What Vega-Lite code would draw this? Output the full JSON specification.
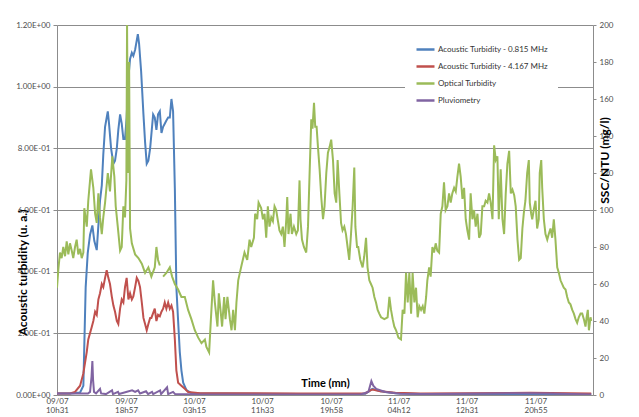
{
  "$schema": "https://vega.github.io/schema/vega-lite/v6.json",
  "width": 536,
  "height": 370,
  "autosize": {"type": "none"},
  "padding": {"left": 57, "top": 25, "right": 46, "bottom": 22},
  "background": "white",
  "config": {"view": {"stroke": null}, "font": "Lato"},
  "datasets": {
    "acoustic": [
      {"s":"Acoustic Turbidity - 0.815 MHz","t":0,"v":0.005},{"s":"Acoustic Turbidity - 0.815 MHz","t":95,"v":0.005},{"s":"Acoustic Turbidity - 0.815 MHz","t":169,"v":0.008},{"s":"Acoustic Turbidity - 0.815 MHz","t":193,"v":0.03},{"s":"Acoustic Turbidity - 0.815 MHz","t":210,"v":0.35},{"s":"Acoustic Turbidity - 0.815 MHz","t":225,"v":0.46},{"s":"Acoustic Turbidity - 0.815 MHz","t":242,"v":0.52},{"s":"Acoustic Turbidity - 0.815 MHz","t":259,"v":0.55},{"s":"Acoustic Turbidity - 0.815 MHz","t":273,"v":0.5},{"s":"Acoustic Turbidity - 0.815 MHz","t":291,"v":0.47},{"s":"Acoustic Turbidity - 0.815 MHz","t":303,"v":0.55},{"s":"Acoustic Turbidity - 0.815 MHz","t":315,"v":0.63},{"s":"Acoustic Turbidity - 0.815 MHz","t":328,"v":0.68},{"s":"Acoustic Turbidity - 0.815 MHz","t":339,"v":0.78},{"s":"Acoustic Turbidity - 0.815 MHz","t":352,"v":0.87},{"s":"Acoustic Turbidity - 0.815 MHz","t":364,"v":0.9},{"s":"Acoustic Turbidity - 0.815 MHz","t":372,"v":0.92},{"s":"Acoustic Turbidity - 0.815 MHz","t":381,"v":0.88},{"s":"Acoustic Turbidity - 0.815 MHz","t":396,"v":0.8},{"s":"Acoustic Turbidity - 0.815 MHz","t":413,"v":0.75},{"s":"Acoustic Turbidity - 0.815 MHz","t":425,"v":0.76},{"s":"Acoustic Turbidity - 0.815 MHz","t":438,"v":0.8},{"s":"Acoustic Turbidity - 0.815 MHz","t":449,"v":0.86},{"s":"Acoustic Turbidity - 0.815 MHz","t":462,"v":0.91},{"s":"Acoustic Turbidity - 0.815 MHz","t":474,"v":0.88},{"s":"Acoustic Turbidity - 0.815 MHz","t":486,"v":0.83},{"s":"Acoustic Turbidity - 0.815 MHz","t":498,"v":0.83},{"s":"Acoustic Turbidity - 0.815 MHz","t":510,"v":0.9},{"s":"Acoustic Turbidity - 0.815 MHz","t":523,"v":1.03},{"s":"Acoustic Turbidity - 0.815 MHz","t":535,"v":1.09},{"s":"Acoustic Turbidity - 0.815 MHz","t":548,"v":1.11},{"s":"Acoustic Turbidity - 0.815 MHz","t":559,"v":1.1},{"s":"Acoustic Turbidity - 0.815 MHz","t":572,"v":1.12},{"s":"Acoustic Turbidity - 0.815 MHz","t":584,"v":1.15},{"s":"Acoustic Turbidity - 0.815 MHz","t":592,"v":1.17},{"s":"Acoustic Turbidity - 0.815 MHz","t":601,"v":1.14},{"s":"Acoustic Turbidity - 0.815 MHz","t":616,"v":1.05},{"s":"Acoustic Turbidity - 0.815 MHz","t":633,"v":0.91},{"s":"Acoustic Turbidity - 0.815 MHz","t":645,"v":0.82},{"s":"Acoustic Turbidity - 0.815 MHz","t":657,"v":0.75},{"s":"Acoustic Turbidity - 0.815 MHz","t":669,"v":0.76},{"s":"Acoustic Turbidity - 0.815 MHz","t":682,"v":0.8},{"s":"Acoustic Turbidity - 0.815 MHz","t":694,"v":0.86},{"s":"Acoustic Turbidity - 0.815 MHz","t":704,"v":0.91},{"s":"Acoustic Turbidity - 0.815 MHz","t":716,"v":0.9},{"s":"Acoustic Turbidity - 0.815 MHz","t":728,"v":0.86},{"s":"Acoustic Turbidity - 0.815 MHz","t":740,"v":0.91},{"s":"Acoustic Turbidity - 0.815 MHz","t":753,"v":0.92},{"s":"Acoustic Turbidity - 0.815 MHz","t":765,"v":0.85},{"s":"Acoustic Turbidity - 0.815 MHz","t":777,"v":0.87},{"s":"Acoustic Turbidity - 0.815 MHz","t":789,"v":0.88},{"s":"Acoustic Turbidity - 0.815 MHz","t":801,"v":0.89},{"s":"Acoustic Turbidity - 0.815 MHz","t":814,"v":0.9},{"s":"Acoustic Turbidity - 0.815 MHz","t":826,"v":0.9},{"s":"Acoustic Turbidity - 0.815 MHz","t":838,"v":0.96},{"s":"Acoustic Turbidity - 0.815 MHz","t":850,"v":0.92},{"s":"Acoustic Turbidity - 0.815 MHz","t":863,"v":0.67},{"s":"Acoustic Turbidity - 0.815 MHz","t":874,"v":0.35},{"s":"Acoustic Turbidity - 0.815 MHz","t":887,"v":0.24},{"s":"Acoustic Turbidity - 0.815 MHz","t":899,"v":0.14},{"s":"Acoustic Turbidity - 0.815 MHz","t":911,"v":0.08},{"s":"Acoustic Turbidity - 0.815 MHz","t":924,"v":0.04},{"s":"Acoustic Turbidity - 0.815 MHz","t":948,"v":0.016},{"s":"Acoustic Turbidity - 0.815 MHz","t":984,"v":0.006},{"s":"Acoustic Turbidity - 0.815 MHz","t":1781,"v":0.003},{"s":"Acoustic Turbidity - 0.815 MHz","t":2258,"v":0.004},{"s":"Acoustic Turbidity - 0.815 MHz","t":2309,"v":0.02},{"s":"Acoustic Turbidity - 0.815 MHz","t":2368,"v":0.012},{"s":"Acoustic Turbidity - 0.815 MHz","t":2478,"v":0.006},{"s":"Acoustic Turbidity - 0.815 MHz","t":2661,"v":0.003},{"s":"Acoustic Turbidity - 0.815 MHz","t":3912,"v":0.003},
      {"s":"Acoustic Turbidity - 4.167 MHz","t":0,"v":0.005},{"s":"Acoustic Turbidity - 4.167 MHz","t":95,"v":0.005},{"s":"Acoustic Turbidity - 4.167 MHz","t":132,"v":0.01},{"s":"Acoustic Turbidity - 4.167 MHz","t":169,"v":0.03},{"s":"Acoustic Turbidity - 4.167 MHz","t":193,"v":0.07},{"s":"Acoustic Turbidity - 4.167 MHz","t":218,"v":0.14},{"s":"Acoustic Turbidity - 4.167 MHz","t":229,"v":0.18},{"s":"Acoustic Turbidity - 4.167 MHz","t":254,"v":0.22},{"s":"Acoustic Turbidity - 4.167 MHz","t":266,"v":0.24},{"s":"Acoustic Turbidity - 4.167 MHz","t":279,"v":0.27},{"s":"Acoustic Turbidity - 4.167 MHz","t":291,"v":0.26},{"s":"Acoustic Turbidity - 4.167 MHz","t":303,"v":0.31},{"s":"Acoustic Turbidity - 4.167 MHz","t":315,"v":0.33},{"s":"Acoustic Turbidity - 4.167 MHz","t":328,"v":0.36},{"s":"Acoustic Turbidity - 4.167 MHz","t":339,"v":0.35},{"s":"Acoustic Turbidity - 4.167 MHz","t":352,"v":0.38},{"s":"Acoustic Turbidity - 4.167 MHz","t":364,"v":0.405},{"s":"Acoustic Turbidity - 4.167 MHz","t":376,"v":0.38},{"s":"Acoustic Turbidity - 4.167 MHz","t":388,"v":0.36},{"s":"Acoustic Turbidity - 4.167 MHz","t":401,"v":0.32},{"s":"Acoustic Turbidity - 4.167 MHz","t":413,"v":0.29},{"s":"Acoustic Turbidity - 4.167 MHz","t":425,"v":0.27},{"s":"Acoustic Turbidity - 4.167 MHz","t":438,"v":0.24},{"s":"Acoustic Turbidity - 4.167 MHz","t":449,"v":0.23},{"s":"Acoustic Turbidity - 4.167 MHz","t":462,"v":0.28},{"s":"Acoustic Turbidity - 4.167 MHz","t":474,"v":0.31},{"s":"Acoustic Turbidity - 4.167 MHz","t":486,"v":0.3},{"s":"Acoustic Turbidity - 4.167 MHz","t":498,"v":0.35},{"s":"Acoustic Turbidity - 4.167 MHz","t":510,"v":0.38},{"s":"Acoustic Turbidity - 4.167 MHz","t":523,"v":0.31},{"s":"Acoustic Turbidity - 4.167 MHz","t":535,"v":0.33},{"s":"Acoustic Turbidity - 4.167 MHz","t":548,"v":0.31},{"s":"Acoustic Turbidity - 4.167 MHz","t":559,"v":0.32},{"s":"Acoustic Turbidity - 4.167 MHz","t":572,"v":0.35},{"s":"Acoustic Turbidity - 4.167 MHz","t":584,"v":0.38},{"s":"Acoustic Turbidity - 4.167 MHz","t":596,"v":0.37},{"s":"Acoustic Turbidity - 4.167 MHz","t":608,"v":0.35},{"s":"Acoustic Turbidity - 4.167 MHz","t":621,"v":0.3},{"s":"Acoustic Turbidity - 4.167 MHz","t":633,"v":0.25},{"s":"Acoustic Turbidity - 4.167 MHz","t":645,"v":0.23},{"s":"Acoustic Turbidity - 4.167 MHz","t":657,"v":0.21},{"s":"Acoustic Turbidity - 4.167 MHz","t":669,"v":0.23},{"s":"Acoustic Turbidity - 4.167 MHz","t":682,"v":0.25},{"s":"Acoustic Turbidity - 4.167 MHz","t":691,"v":0.25},{"s":"Acoustic Turbidity - 4.167 MHz","t":716,"v":0.28},{"s":"Acoustic Turbidity - 4.167 MHz","t":728,"v":0.24},{"s":"Acoustic Turbidity - 4.167 MHz","t":740,"v":0.26},{"s":"Acoustic Turbidity - 4.167 MHz","t":753,"v":0.255},{"s":"Acoustic Turbidity - 4.167 MHz","t":765,"v":0.27},{"s":"Acoustic Turbidity - 4.167 MHz","t":777,"v":0.28},{"s":"Acoustic Turbidity - 4.167 MHz","t":789,"v":0.3},{"s":"Acoustic Turbidity - 4.167 MHz","t":801,"v":0.28},{"s":"Acoustic Turbidity - 4.167 MHz","t":814,"v":0.3},{"s":"Acoustic Turbidity - 4.167 MHz","t":826,"v":0.28},{"s":"Acoustic Turbidity - 4.167 MHz","t":838,"v":0.29},{"s":"Acoustic Turbidity - 4.167 MHz","t":850,"v":0.27},{"s":"Acoustic Turbidity - 4.167 MHz","t":863,"v":0.18},{"s":"Acoustic Turbidity - 4.167 MHz","t":874,"v":0.08},{"s":"Acoustic Turbidity - 4.167 MHz","t":887,"v":0.04},{"s":"Acoustic Turbidity - 4.167 MHz","t":911,"v":0.03},{"s":"Acoustic Turbidity - 4.167 MHz","t":936,"v":0.02},{"s":"Acoustic Turbidity - 4.167 MHz","t":960,"v":0.01},{"s":"Acoustic Turbidity - 4.167 MHz","t":1048,"v":0.006},{"s":"Acoustic Turbidity - 4.167 MHz","t":1781,"v":0.005},{"s":"Acoustic Turbidity - 4.167 MHz","t":2258,"v":0.006},{"s":"Acoustic Turbidity - 4.167 MHz","t":2309,"v":0.018},{"s":"Acoustic Turbidity - 4.167 MHz","t":2368,"v":0.012},{"s":"Acoustic Turbidity - 4.167 MHz","t":2478,"v":0.007},{"s":"Acoustic Turbidity - 4.167 MHz","t":2661,"v":0.005},{"s":"Acoustic Turbidity - 4.167 MHz","t":3467,"v":0.007},{"s":"Acoustic Turbidity - 4.167 MHz","t":3912,"v":0.005},
      {"s":"Pluviometry","t":0,"v":0.005},{"s":"Pluviometry","t":227,"v":0.005},{"s":"Pluviometry","t":242,"v":0.01},{"s":"Pluviometry","t":253,"v":0.06},{"s":"Pluviometry","t":259,"v":0.11},{"s":"Pluviometry","t":264,"v":0.05},{"s":"Pluviometry","t":271,"v":0.01},{"s":"Pluviometry","t":286,"v":0.005},{"s":"Pluviometry","t":315,"v":0.02},{"s":"Pluviometry","t":323,"v":0.005},{"s":"Pluviometry","t":359,"v":0.003},{"s":"Pluviometry","t":403,"v":0.015},{"s":"Pluviometry","t":410,"v":0.003},{"s":"Pluviometry","t":447,"v":0.01},{"s":"Pluviometry","t":454,"v":0.003},{"s":"Pluviometry","t":550,"v":0.015},{"s":"Pluviometry","t":572,"v":0.01},{"s":"Pluviometry","t":594,"v":0.015},{"s":"Pluviometry","t":608,"v":0.005},{"s":"Pluviometry","t":652,"v":0.012},{"s":"Pluviometry","t":667,"v":0.003},{"s":"Pluviometry","t":696,"v":0.01},{"s":"Pluviometry","t":704,"v":0.003},{"s":"Pluviometry","t":755,"v":0.015},{"s":"Pluviometry","t":762,"v":0.003},{"s":"Pluviometry","t":806,"v":0.025},{"s":"Pluviometry","t":814,"v":0.003},{"s":"Pluviometry","t":850,"v":0.01},{"s":"Pluviometry","t":865,"v":0.003},{"s":"Pluviometry","t":1048,"v":0.002},{"s":"Pluviometry","t":2221,"v":0.002},{"s":"Pluviometry","t":2280,"v":0.01},{"s":"Pluviometry","t":2302,"v":0.045},{"s":"Pluviometry","t":2316,"v":0.03},{"s":"Pluviometry","t":2338,"v":0.02},{"s":"Pluviometry","t":2404,"v":0.01},{"s":"Pluviometry","t":2514,"v":0.004},{"s":"Pluviometry","t":2734,"v":0.003},{"s":"Pluviometry","t":3467,"v":0.006},{"s":"Pluviometry","t":3614,"v":0.005},{"s":"Pluviometry","t":3912,"v":0.002}
    ],
    "optical": [
      {"t":0,"v":58},{"t":10,"v":68},{"t":22,"v":77},{"t":34,"v":74},{"t":46,"v":80},{"t":59,"v":75},{"t":71,"v":83},{"t":83,"v":76},{"t":95,"v":82},{"t":108,"v":78},{"t":119,"v":74},{"t":132,"v":80},{"t":144,"v":84},{"t":156,"v":76},{"t":169,"v":79},{"t":181,"v":74},{"t":193,"v":77},{"t":200,"v":101},{"t":218,"v":91},{"t":229,"v":105},{"t":249,"v":122},{"t":266,"v":112},{"t":279,"v":98},{"t":291,"v":93},{"t":303,"v":109},{"t":315,"v":96},{"t":328,"v":87},{"t":339,"v":96},{"t":352,"v":104},{"t":372,"v":120},{"t":388,"v":110},{"t":405,"v":129},{"t":420,"v":118},{"t":430,"v":102},{"t":445,"v":91},{"t":462,"v":78},{"t":474,"v":80},{"t":486,"v":102},{"t":498,"v":96},{"t":508,"v":116},{"t":513,"v":200},{"t":520,"v":120},{"t":528,"v":180},{"t":535,"v":90},{"t":548,"v":82},{"t":572,"v":76},{"t":596,"v":74},{"t":621,"v":71},{"t":645,"v":66},{"t":669,"v":69},{"t":691,"v":64},{"t":716,"v":69},{"t":728,"v":80},{"t":740,"v":73},{"t":753,"v":70},{"t":761,"v":null},{"t":777,"v":64},{"t":801,"v":66},{"t":826,"v":69},{"t":843,"v":64},{"t":863,"v":60},{"t":887,"v":57},{"t":911,"v":53},{"t":936,"v":53},{"t":960,"v":46},{"t":984,"v":41},{"t":1009,"v":35},{"t":1034,"v":31},{"t":1058,"v":28},{"t":1083,"v":30},{"t":1094,"v":26},{"t":1114,"v":23},{"t":1127,"v":41},{"t":1143,"v":62},{"t":1156,"v":50},{"t":1175,"v":37},{"t":1185,"v":55},{"t":1200,"v":44},{"t":1209,"v":37},{"t":1224,"v":53},{"t":1234,"v":41},{"t":1248,"v":53},{"t":1266,"v":41},{"t":1278,"v":35},{"t":1290,"v":46},{"t":1303,"v":35},{"t":1314,"v":50},{"t":1327,"v":62},{"t":1339,"v":66},{"t":1351,"v":70},{"t":1373,"v":77},{"t":1393,"v":73},{"t":1410,"v":84},{"t":1422,"v":80},{"t":1442,"v":85},{"t":1451,"v":98},{"t":1466,"v":95},{"t":1476,"v":104},{"t":1495,"v":101},{"t":1508,"v":95},{"t":1520,"v":98},{"t":1532,"v":85},{"t":1544,"v":102},{"t":1556,"v":91},{"t":1569,"v":96},{"t":1581,"v":94},{"t":1593,"v":102},{"t":1605,"v":100},{"t":1618,"v":94},{"t":1629,"v":89},{"t":1642,"v":87},{"t":1654,"v":91},{"t":1666,"v":80},{"t":1679,"v":95},{"t":1686,"v":107},{"t":1695,"v":87},{"t":1710,"v":98},{"t":1720,"v":87},{"t":1735,"v":91},{"t":1752,"v":87},{"t":1764,"v":89},{"t":1776,"v":116},{"t":1783,"v":95},{"t":1794,"v":84},{"t":1808,"v":80},{"t":1825,"v":77},{"t":1838,"v":91},{"t":1849,"v":118},{"t":1862,"v":149},{"t":1871,"v":144},{"t":1882,"v":158},{"t":1891,"v":145},{"t":1901,"v":145},{"t":1911,"v":134},{"t":1923,"v":122},{"t":1935,"v":107},{"t":1948,"v":95},{"t":1959,"v":102},{"t":1972,"v":120},{"t":1984,"v":131},{"t":1996,"v":134},{"t":2008,"v":138},{"t":2021,"v":127},{"t":2033,"v":109},{"t":2045,"v":104},{"t":2055,"v":127},{"t":2067,"v":110},{"t":2080,"v":93},{"t":2091,"v":89},{"t":2104,"v":91},{"t":2116,"v":87},{"t":2128,"v":80},{"t":2140,"v":73},{"t":2153,"v":87},{"t":2165,"v":102},{"t":2177,"v":123},{"t":2185,"v":91},{"t":2197,"v":80},{"t":2206,"v":80},{"t":2221,"v":73},{"t":2238,"v":69},{"t":2250,"v":75},{"t":2263,"v":85},{"t":2274,"v":69},{"t":2287,"v":62},{"t":2299,"v":60},{"t":2311,"v":58},{"t":2324,"v":53},{"t":2336,"v":50},{"t":2348,"v":46},{"t":2360,"v":44},{"t":2373,"v":42},{"t":2397,"v":41},{"t":2421,"v":42},{"t":2434,"v":53},{"t":2446,"v":46},{"t":2458,"v":41},{"t":2470,"v":37},{"t":2483,"v":35},{"t":2500,"v":31},{"t":2519,"v":30},{"t":2531,"v":46},{"t":2544,"v":44},{"t":2556,"v":66},{"t":2568,"v":50},{"t":2580,"v":66},{"t":2593,"v":44},{"t":2604,"v":66},{"t":2617,"v":50},{"t":2629,"v":58},{"t":2641,"v":42},{"t":2653,"v":48},{"t":2666,"v":46},{"t":2678,"v":48},{"t":2690,"v":44},{"t":2703,"v":53},{"t":2712,"v":62},{"t":2725,"v":69},{"t":2736,"v":64},{"t":2749,"v":80},{"t":2761,"v":77},{"t":2773,"v":82},{"t":2785,"v":78},{"t":2798,"v":77},{"t":2810,"v":98},{"t":2822,"v":102},{"t":2834,"v":115},{"t":2846,"v":100},{"t":2859,"v":102},{"t":2871,"v":109},{"t":2883,"v":104},{"t":2895,"v":109},{"t":2908,"v":112},{"t":2920,"v":110},{"t":2932,"v":118},{"t":2944,"v":125},{"t":2956,"v":118},{"t":2969,"v":106},{"t":2981,"v":112},{"t":2993,"v":95},{"t":3005,"v":89},{"t":3018,"v":84},{"t":3029,"v":109},{"t":3042,"v":95},{"t":3054,"v":100},{"t":3066,"v":91},{"t":3079,"v":98},{"t":3091,"v":85},{"t":3103,"v":87},{"t":3115,"v":102},{"t":3128,"v":102},{"t":3139,"v":105},{"t":3152,"v":104},{"t":3164,"v":109},{"t":3176,"v":104},{"t":3189,"v":95},{"t":3201,"v":135},{"t":3213,"v":127},{"t":3225,"v":129},{"t":3235,"v":95},{"t":3249,"v":122},{"t":3262,"v":95},{"t":3274,"v":87},{"t":3286,"v":109},{"t":3298,"v":125},{"t":3311,"v":132},{"t":3323,"v":109},{"t":3335,"v":111},{"t":3348,"v":108},{"t":3359,"v":102},{"t":3372,"v":84},{"t":3384,"v":73},{"t":3396,"v":74},{"t":3408,"v":90},{"t":3418,"v":98},{"t":3430,"v":105},{"t":3443,"v":120},{"t":3455,"v":127},{"t":3462,"v":104},{"t":3472,"v":98},{"t":3480,"v":95},{"t":3491,"v":100},{"t":3504,"v":105},{"t":3516,"v":90},{"t":3528,"v":95},{"t":3535,"v":120},{"t":3546,"v":127},{"t":3553,"v":112},{"t":3565,"v":95},{"t":3577,"v":87},{"t":3590,"v":84},{"t":3601,"v":87},{"t":3614,"v":90},{"t":3626,"v":85},{"t":3638,"v":95},{"t":3650,"v":84},{"t":3663,"v":69},{"t":3675,"v":66},{"t":3687,"v":62},{"t":3711,"v":58},{"t":3724,"v":57},{"t":3736,"v":53},{"t":3748,"v":50},{"t":3760,"v":49},{"t":3773,"v":46},{"t":3785,"v":44},{"t":3797,"v":41},{"t":3809,"v":39},{"t":3821,"v":42},{"t":3834,"v":44},{"t":3846,"v":44},{"t":3858,"v":41},{"t":3870,"v":37},{"t":3878,"v":42},{"t":3887,"v":46},{"t":3895,"v":35},{"t":3907,"v":42},{"t":3912,"v":40}
    ]
  },
  "layer": [
    {
      "data": {"name": "acoustic"},
      "mark": {"type": "line", "strokeWidth": 2, "clip": true},
      "encoding": {
        "x": {
          "field": "t", "type": "quantitative",
          "scale": {"domain": [0, 3925], "nice": false, "zero": false},
          "axis": {
            "values": [0, 506, 1004, 1502, 2007, 2501, 3000, 3504],
            "labelExpr": "datum.value==0?['09/07','10h31']:datum.value==506?['09/07','18h57']:datum.value==1004?['10/07','03h15']:datum.value==1502?['10/07','11h33']:datum.value==2007?['10/07','19h58']:datum.value==2501?['11/07','04h12']:datum.value==3000?['11/07','12h31']:['11/07','20h55']",
            "grid": false, "ticks": false, "domainColor": "#8c8c8c",
            "labelFontSize": 8, "labelColor": "#4d4d4d", "labelLineHeight": 9,
            "labelPadding": 2, "labelFlush": false, "labelOverlap": false, "labelBound": false,
            "title": "Time (mn)", "titleFontSize": 11, "titleFontWeight": "bold", "titleColor": "#000000",
            "titleBaseline": "middle", "titleY": -12
          }
        },
        "y": {
          "field": "v", "type": "quantitative",
          "scale": {"domain": [0, 1.2], "nice": false},
          "axis": {
            "values": [0, 0.2, 0.4, 0.6, 0.8, 1, 1.2],
            "labelExpr": "datum.value==0?'0.00E+00':datum.value<0.99?format(datum.value*10,'.2f')+'E-01':format(datum.value,'.2f')+'E+00'",
            "grid": true, "gridColor": "#8c8c8c", "domainColor": "#8c8c8c", "tickColor": "#8c8c8c", "tickSize": 4,
            "labelFontSize": 8, "labelColor": "#4d4d4d", "labelPadding": 3,
            "title": "Acoustic turbidity (u. a.)", "titleFontSize": 12, "titleFontWeight": "bold", "titleColor": "#000000",
            "titleBaseline": "middle", "titleAlign": "center", "titleX": -35, "titleY": 247
          }
        },
        "color": {
          "field": "s", "type": "nominal",
          "scale": {
            "domain": ["Acoustic Turbidity - 0.815 MHz", "Acoustic Turbidity - 4.167 MHz", "Optical Turbidity", "Pluviometry"],
            "range": ["#4F81BD", "#C0504D", "#9BBB59", "#8064A2"]
          },
          "legend": {
            "orient": "none", "legendX": 348, "legendY": 4, "title": null,
            "symbolType": "stroke", "symbolSize": 324, "symbolStrokeWidth": 2.5,
            "labelFontSize": 8, "labelColor": "#333333", "labelOffset": 2,
            "fillColor": "white", "padding": 10, "rowPadding": 1
          }
        }
      }
    },
    {
      "data": {"name": "optical"},
      "mark": {"type": "line", "strokeWidth": 2, "clip": true},
      "encoding": {
        "x": {"field": "t", "type": "quantitative"},
        "y": {
          "field": "v", "type": "quantitative",
          "scale": {"domain": [0, 200], "nice": false},
          "axis": {
            "orient": "right",
            "values": [0, 20, 40, 60, 80, 100, 120, 140, 160, 180, 200],
            "grid": false, "domainColor": "#8c8c8c", "tickColor": "#8c8c8c", "tickSize": 3,
            "labelFontSize": 8, "labelColor": "#4d4d4d", "labelPadding": 3,
            "title": "SSC/NTU (mg/l)", "titleFontSize": 12, "titleFontWeight": "bold", "titleColor": "#000000",
            "titleAngle": -90, "titleBaseline": "middle", "titleAlign": "center", "titleX": 11, "titleY": 135
          }
        },
        "color": {"datum": "Optical Turbidity"}
      }
    }
  ],
  "resolve": {"scale": {"y": "independent"}}
}
